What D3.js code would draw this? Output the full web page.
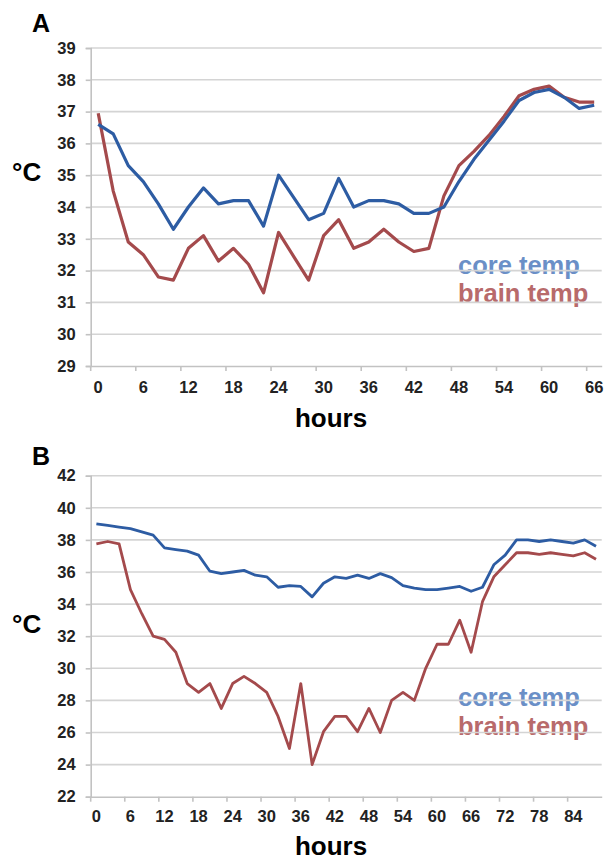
<!DOCTYPE html>
<html>
<head>
<meta charset="utf-8">
<script src="https://cdn.jsdelivr.net/npm/d3@7"></script>
<style>
  body { margin: 0; background: #fff; }
  svg text { font-family: 'Liberation Sans', Arial, sans-serif; font-weight: bold; }
</style>
</head>
<body>
<div id="chart"></div>
<script>
// ---
// Data
// ---
const hoursA = d3.range(0, 67, 2)
const coreA = [36.6, 36.3, 35.3, 34.8, 34.1, 33.3, 34.0, 34.6, 34.1, 34.2, 34.2, 33.4,
  35.0, 34.3, 33.6, 33.8, 34.9, 34.0, 34.2, 34.2, 34.1, 33.8, 33.8, 34.0,
  34.8, 35.5, 36.1, 36.7, 37.35, 37.6, 37.7, 37.45, 37.1, 37.2]
const brainA = [36.95, 34.5, 32.9, 32.5, 31.8, 31.7, 32.7, 33.1, 32.3, 32.7, 32.2, 31.3,
  33.2, 32.45, 31.7, 33.1, 33.6, 32.7, 32.9, 33.3, 32.9, 32.6, 32.7, 34.35,
  35.3, 35.75, 36.25, 36.85, 37.5, 37.7, 37.8, 37.45, 37.3, 37.3]
const yTicksA = d3.range(29, 40, 1)

const hoursB = d3.range(0, 89, 2)
const coreB = [39.0, 38.9, 38.8, 38.7, 38.5, 38.3, 37.5, 37.4, 37.3, 37.05, 36.05, 35.9,
  36.0, 36.1, 35.8, 35.7, 35.05, 35.15, 35.1, 34.45, 35.3, 35.7, 35.6, 35.8,
  35.6, 35.9, 35.65, 35.15, 35.0, 34.9, 34.9, 35.0, 35.1, 34.8, 35.05, 36.45,
  37.05, 38.0, 38.0, 37.9, 38.0, 37.9, 37.8, 38.0, 37.6]
const brainB = [37.75, 37.9, 37.75, 34.9, 33.4, 32.0, 31.8, 31.0, 29.05, 28.5, 29.05, 27.5,
  29.05, 29.5, 29.05, 28.5, 27.0, 25.0, 29.05, 24.0, 26.05, 27.0, 27.0, 26.05,
  27.5, 26.0, 28.0, 28.5, 28.0, 30.0, 31.5, 31.5, 33.0, 31.0, 34.15, 35.7,
  36.45, 37.2, 37.2, 37.1, 37.2, 37.1, 37.0, 37.2, 36.8]
const yTicksB = d3.range(22, 43, 2)

const legendLabels = ['core temp', 'brain temp']

// ---
// Style
// ---
const lineColors = ['#2d5ca3', '#a44a4c']
const textColors = ['#6a8fc7', '#b86a6b']
const gridColor = '#d4d4d4'
const axisColor = '#c2c2c2'

const svg = d3.select('#chart').append('svg')
  .attr('width', 608)
  .attr('height', 862)

const panels = [
  {
    tag: 'A', hours: hoursA, series: [coreA, brainA], yTicks: yTicksA,
    top: 48, bottom: 366, tagY: 32, unitY: 181, hoursY: 427,
    legendY: [274, 302], tickPad: 15
  },
  {
    tag: 'B', hours: hoursB, series: [coreB, brainB], yTicks: yTicksB,
    top: 475.7, bottom: 796.7, tagY: 465, unitY: 633, hoursY: 855,
    legendY: [706, 735], tickPad: 14
  }
]

const left = 90.7
const right = 601.7

panels.forEach(p => {
  const x = d3.scaleBand()
    .domain(p.hours)
    .range([left, right])
    .padding(0)

  const y = d3.scaleLinear()
    .domain(d3.extent(p.yTicks))
    .range([p.bottom, p.top])

  const g = svg.append('g')

  // panel tag and unit
  g.append('text')
    .attr('x', 32).attr('y', p.tagY)
    .attr('font-size', 25)
    .text(p.tag)

  g.append('text')
    .attr('x', 12).attr('y', p.unitY)
    .attr('font-size', 26)
    .text('°C')

  g.append('text')
    .attr('x', 331).attr('y', p.hoursY)
    .attr('text-anchor', 'middle')
    .attr('font-size', 26)
    .text('hours')

  // legend sits under the gridlines, like the original
  legendLabels.forEach((name, i) => {
    g.append('text')
      .attr('x', 458).attr('y', p.legendY[i])
      .attr('font-size', 25.5)
      .attr('fill', textColors[i])
      .text(name)
  })

  // gridlines
  g.append('g')
    .selectAll('line')
    .data(p.yTicks.slice(1))
    .enter()
      .append('line')
      .attr('x1', left).attr('x2', right)
      .attr('y1', d => y(d)).attr('y2', d => y(d))
      .attr('stroke', gridColor)
      .attr('stroke-width', 1.6)

  // y axis
  const yAxis = d3.axisLeft(y)
    .tickValues(p.yTicks)
    .tickSize(5)
    .tickPadding(10)
    .tickFormat(d3.format('d'))

  const ya = g.append('g')
    .attr('transform', `translate(${left},0)`)
    .call(yAxis)
  ya.select('.domain').attr('stroke', axisColor).attr('stroke-width', 1.6)
  ya.selectAll('.tick line').attr('stroke', axisColor).attr('stroke-width', 1.6)
  ya.selectAll('.tick text').attr('font-size', 16.5).attr('fill', '#222')
    .attr('font-family', "'Liberation Sans', Arial, sans-serif")

  // x axis: labels at category centres, marks at category edges
  const labelHours = p.hours.filter(h => h % 6 === 0)
  const xAxis = d3.axisBottom(x)
    .tickValues(labelHours)
    .tickSize(0)
    .tickPadding(p.tickPad)

  const xa = g.append('g')
    .attr('transform', `translate(0,${p.bottom})`)
    .call(xAxis)
  xa.select('.domain').attr('stroke', axisColor).attr('stroke-width', 1.6)
  xa.selectAll('.tick text').attr('font-size', 16.5).attr('fill', '#222')
    .attr('font-family', "'Liberation Sans', Arial, sans-serif")

  g.append('g')
    .selectAll('line')
    .data(labelHours)
    .enter()
      .append('line')
      .attr('x1', d => x(d)).attr('x2', d => x(d))
      .attr('y1', p.bottom).attr('y2', p.bottom + 5)
      .attr('stroke', axisColor)
      .attr('stroke-width', 1.6)

  // lines
  const line = d3.line()
    .x((d, i) => x(p.hours[i]) + x.bandwidth() / 2)
    .y(d => y(d))

  p.series.slice().reverse().forEach((s, j) => {
    const i = p.series.length - 1 - j
    g.append('path')
      .datum(s)
      .attr('fill', 'none')
      .attr('stroke', lineColors[i])
      .attr('stroke-width', p.tag === 'A' ? 3.2 : 2.8)
      .attr('stroke-linejoin', 'round')
      .attr('d', line)
  })
})
</script>
</body>
</html>
